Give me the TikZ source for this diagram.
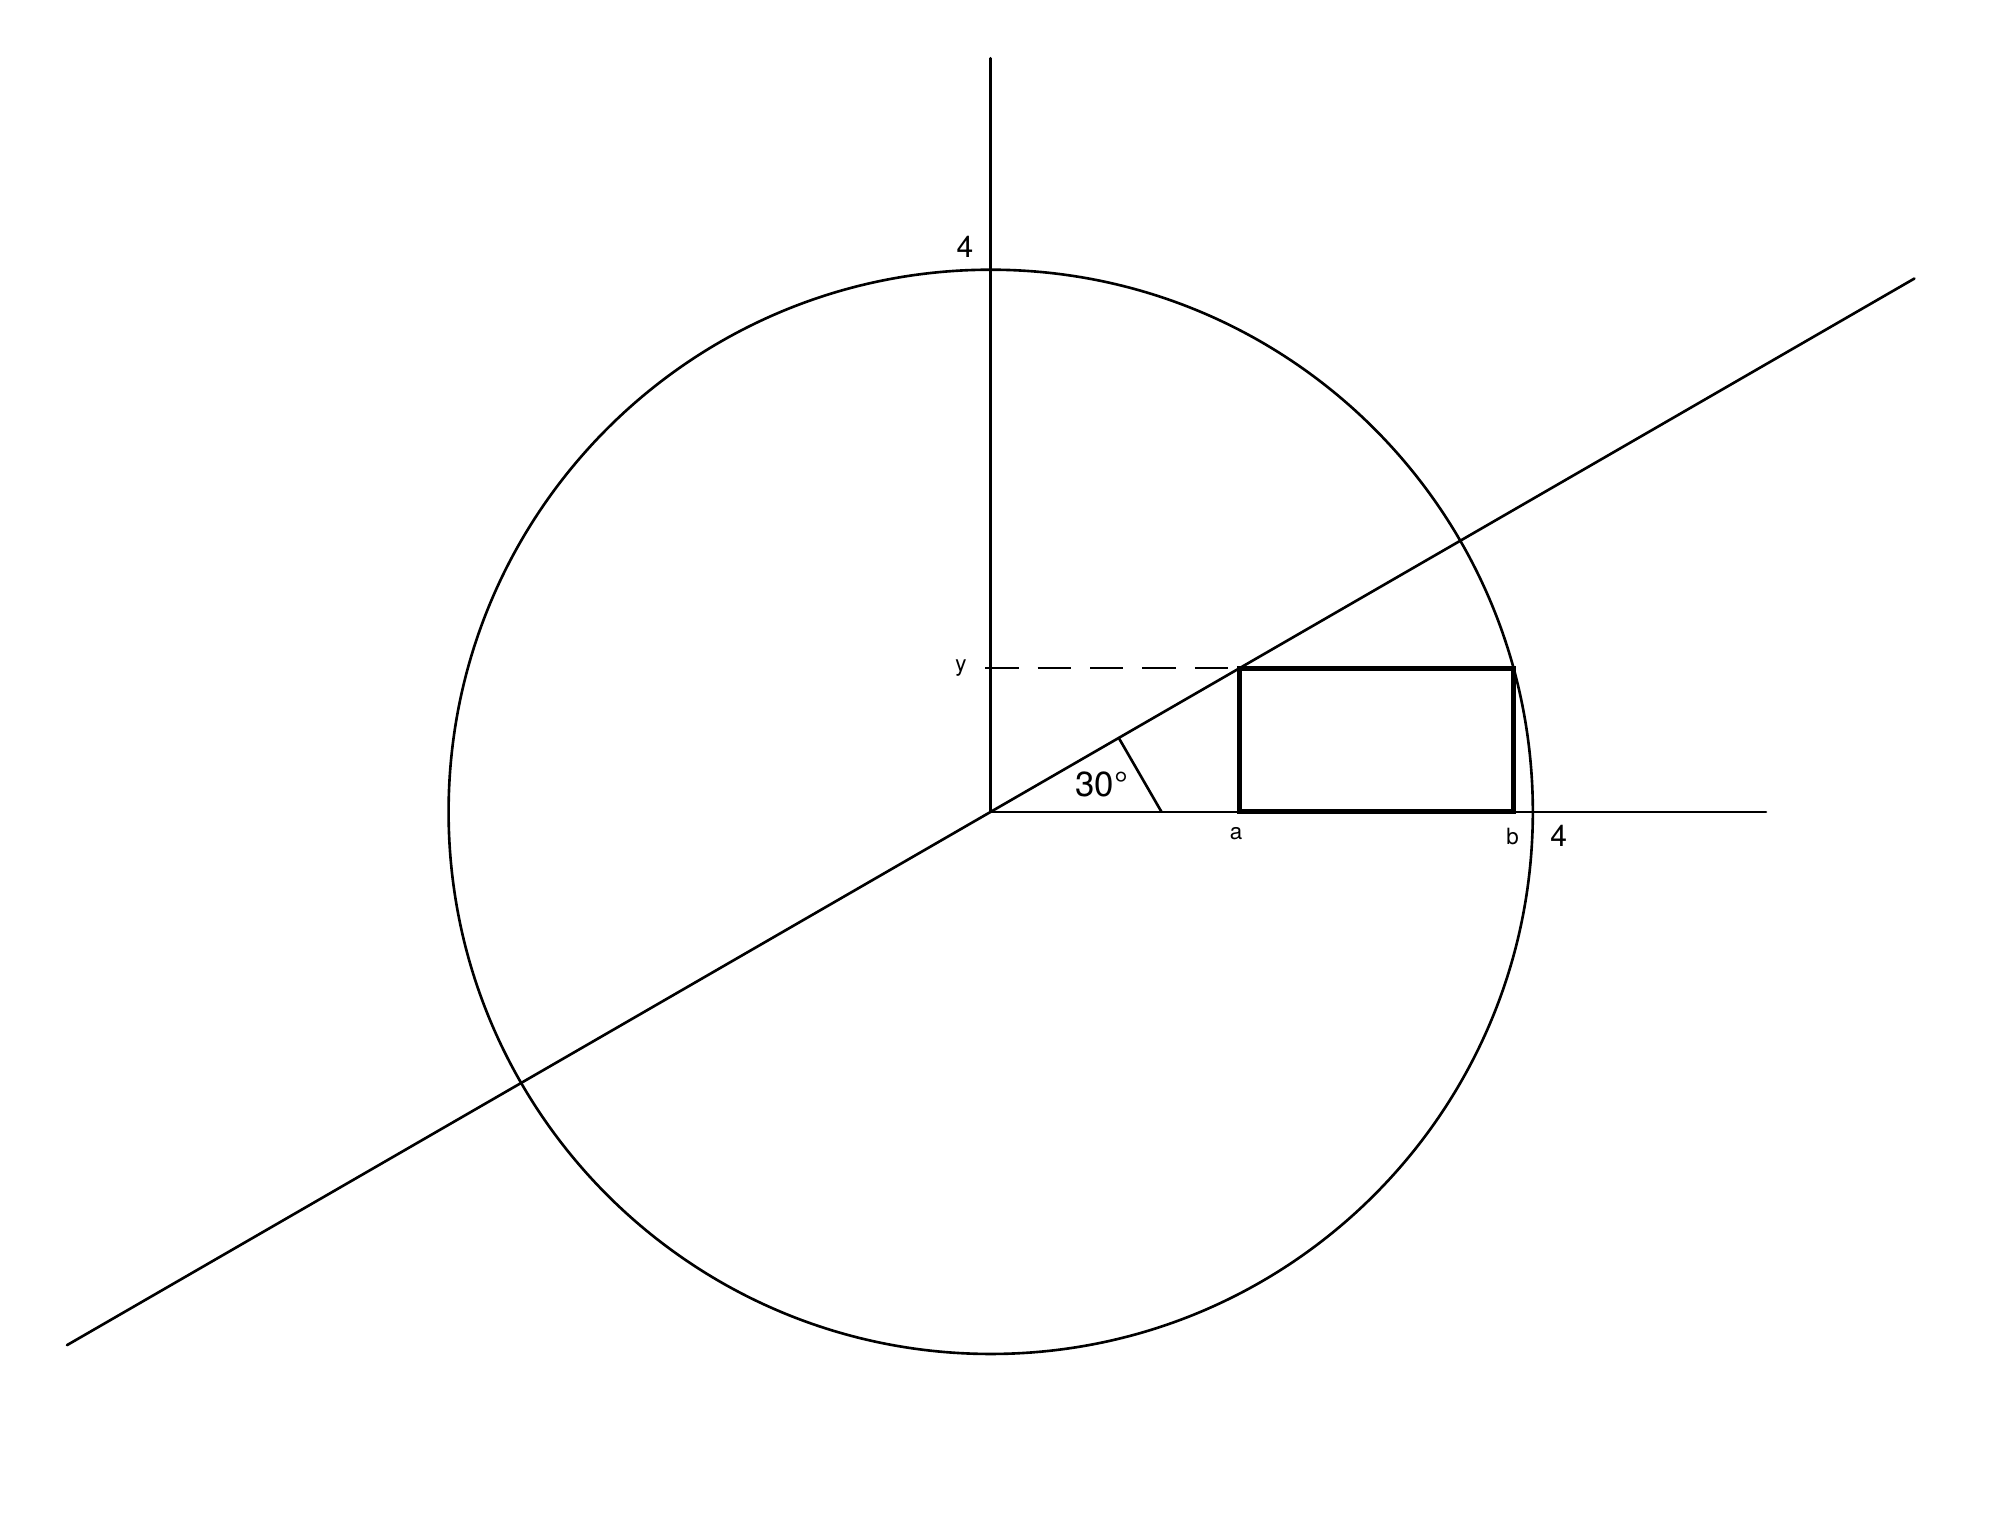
\documentclass[tikz,border=0pt]{standalone}
\usepackage{fontspec}
\setmainfont{TeX Gyre Heros}
\usetikzlibrary{calc}
\begin{document}
\begin{tikzpicture}[line width=0.55pt,line cap=round]
\tikzset{lbl/.style={inner sep=0pt,font=\fontsize{6.3}{7}\selectfont},
         small/.style={inner sep=0pt,font=\fontsize{4.7}{5}\selectfont}}
\useasboundingbox (-7.31,-5.37) rectangle (7.41,5.99);
\coordinate (O) at (0,0);
\coordinate (A) at (1.836,0);
\coordinate (Ay) at (1.836,1.06);
\coordinate (B) at (3.857,0);
\coordinate (By) at (3.857,1.06);
\draw (O) circle (4);
\draw (O)--(0,5.56) coordinate (Yend);
\draw (O)--(5.72,0) coordinate (Xend);
\draw (210:7.87) coordinate (Lstart)--(30:7.87) coordinate (Lend);
\draw[line width=1.1pt,line cap=butt] (A) rectangle (By);
\draw[dash pattern=on 7pt off 4pt,line cap=butt] (-0.04,1.06) coordinate (Ystart)--(Ay);
\draw (30:1.091) coordinate (T1)--(1.26,0) coordinate (T2);
\node[lbl] (fourY) at (-0.19,4.17) {4};
\node[lbl] (fourX) at (4.19,-0.18) {4};
\node[lbl,font=\fontsize{7.3}{8}\selectfont] (ang) at (0.82,0.20) {30°};
\node[small] (ylab) at (-0.22,1.06) {y};
\node[small] (alab) at (1.81,-0.16) {a};
\node[small] (blab) at (3.85,-0.18) {b};
\end{tikzpicture}
\end{document}
